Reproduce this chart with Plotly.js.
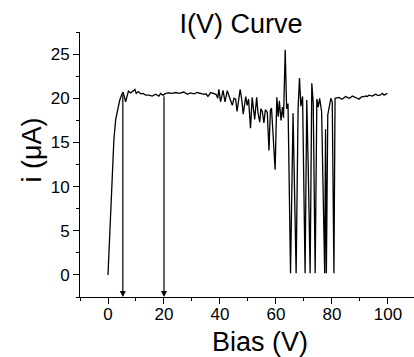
<!DOCTYPE html>
<html>
<head>
<meta charset="utf-8">
<script src="https://cdn.plot.ly/plotly-3.0.1.min.js"></script>
<style>html,body{margin:0;padding:0;background:#fff;}#chart{width:414px;height:357px;}</style>
</head>
<body>
<div id="chart"></div>
<script>
// Bias (V) and current (µA), by segment
var biasRise = [0, 0.6, 1.2, 2.1, 2.75, 3.6, 4.2, 4.9, 5.4, 6.3];
var currRise = [0, 5.0, 10.0, 15.3, 17.6, 19.0, 19.8, 20.4, 20.7, 19.6];

var biasFlat = [7.3, 8.1, 8.9, 9.6, 10.1, 10.8, 11.7, 12.5, 13.5, 14.6, 15.8, 17.0, 18.2, 18.8, 19.6, 20.6, 21.8, 23.0, 24.2, 25.4, 27.1, 28.3, 29.5, 30.7, 31.9, 33.1, 34.3, 35.0, 35.7, 36.7, 37.9, 38.6];
var currFlat = [20.8, 20.6, 20.85, 21.0, 20.55, 20.75, 20.5, 20.55, 20.35, 20.35, 20.25, 20.45, 20.25, 20.55, 20.35, 20.55, 20.6, 20.55, 20.65, 20.55, 20.7, 20.45, 20.6, 20.5, 20.65, 20.55, 20.45, 20.5, 20.2, 20.65, 20.5, 20.45];

var biasNoise = [39.2, 39.6, 40.2, 41.1, 41.8, 42.6, 43.5, 44.4, 45.0, 45.6, 46.1, 47.2, 47.8, 48.3, 49.2, 49.7, 50.2, 50.9, 51.5, 52.0, 52.4, 53.1, 53.6, 54.2, 54.6, 55.1, 55.7, 56.2, 56.9, 57.5, 58.0, 58.4, 58.9, 59.7, 60.3, 60.8, 61.2, 61.8, 62.3, 62.7, 63.3, 63.8, 64.3];
var currNoise = [20.0, 21.0, 19.6, 20.9, 19.6, 20.85, 20.0, 19.2, 20.0, 19.9, 18.5, 21.0, 19.8, 18.2, 20.2, 19.2, 19.9, 16.6, 20.1, 18.3, 17.6, 20.1, 18.3, 17.3, 18.8, 18.5, 17.2, 18.7, 18.4, 14.1, 18.6, 18.9, 15.8, 11.9, 20.1, 17.9, 19.7, 17.5, 19.0, 17.8, 25.5, 18.8, 19.4];

var biasDrop = [65.2, 66.1, 67.2, 67.9, 68.4, 68.9, 69.5, 70.4, 71.0, 71.5, 72.2, 72.8, 73.3, 74.0, 74.6, 75.1, 75.6, 76.3, 77.4, 77.7, 78.0, 78.5, 79.0, 79.6, 80.1, 80.7, 81.1];
var currDrop = [0.2, 18.3, 0.2, 18.8, 22.3, 19.1, 20.2, 0.2, 19.8, 12.5, 0.2, 21.7, 19.5, 0.2, 19.9, 19.0, 20.0, 18.5, 0.2, 16.5, 0.2, 18.1, 19.2, 20.0, 19.6, 0.2, 20.0];

var biasTail = [81.9, 82.5, 83.1, 83.7, 84.3, 84.9, 85.5, 86.1, 86.7, 87.3, 87.9, 88.5, 89.1, 89.6, 90.2, 90.8, 91.4, 92.0, 92.6, 93.2, 93.8, 94.4, 95.0, 95.6, 96.2, 96.8, 97.4, 98.0, 98.6, 99.2, 99.8];
var currTail = [20.1, 20.1, 19.95, 19.9, 20.05, 20.2, 20.1, 20.0, 20.1, 20.25, 20.15, 20.1, 20.0, 19.9, 20.05, 20.2, 20.15, 20.25, 20.2, 20.35, 20.3, 20.25, 20.35, 20.45, 20.35, 20.3, 20.4, 20.55, 20.35, 20.45, 20.55];

// Marked bias points (arrows down to the axis)
var arrowBias = [5.3, 20];
var arrowCurr = [20.6, 20.4];

var xTicks = [0, 20, 40, 60, 80, 100];
var yTicks = [0, 5, 10, 15, 20, 25];
var xMinorTicks = [-10, 10, 30, 50, 70, 90, 110];
var yMinorTicks = [-2.5, 2.5, 7.5, 12.5, 17.5, 22.5, 27.5];

var bias = [].concat(biasRise, biasFlat, biasNoise, biasDrop, biasTail);
var curr = [].concat(currRise, currFlat, currNoise, currDrop, currTail);

var FONT = 'Liberation Sans, Arial, sans-serif';
var yMin = -2.5, yMax = 27.5;

var annotations = arrowBias.map(function (b, i) {
  return {
    x: b, y: yMin, xref: 'x', yref: 'y',
    ax: b, ay: arrowCurr[i], axref: 'x', ayref: 'y',
    text: '', showarrow: true, arrowhead: 2, arrowsize: 1, arrowwidth: 1.2,
    arrowcolor: '#000', standoff: 0, startstandoff: 0
  };
});
annotations.push({
  text: 'Bias (V)', xref: 'paper', yref: 'paper',
  x: (259.6 - 80) / 334, y: -(342 - 297) / 265,
  xanchor: 'center', yanchor: 'middle', showarrow: false, borderpad: 0,
  font: {family: FONT, size: 27, color: '#000'}
});
annotations.push({
  text: 'i (\u03BCA)', xref: 'paper', yref: 'paper', textangle: -90,
  x: -(80 - 31) / 334, y: (297 - 150.5) / 265,
  xanchor: 'center', yanchor: 'middle', showarrow: false, borderpad: 0,
  font: {family: FONT, size: 27, color: '#000'}
});

var axisCommon = {
  showgrid: false, zeroline: false, showline: true, linecolor: '#000', linewidth: 1,
  ticks: 'outside', ticklen: 6, tickwidth: 1, tickcolor: '#000',
  tickfont: {family: FONT, size: 17, color: '#000'}, mirror: false
};

var layout = {
  width: 414, height: 357,
  margin: {l: 80, r: 0, t: 32, b: 60},
  paper_bgcolor: '#fff', plot_bgcolor: '#fff',
  showlegend: false,
  title: {
    text: 'I(V) Curve', x: 241 / 414, xanchor: 'center',
    yref: 'container', y: 1 - 24 / 357, yanchor: 'middle',
    font: {family: FONT, size: 27, color: '#000'}
  },
  xaxis: Object.assign({}, axisCommon, {
    range: [-10, 109.3], tickmode: 'array', tickvals: xTicks, ticktext: xTicks.map(String),
    ticklabelstandoff: -4,
    minor: {ticks: 'outside', ticklen: 3, tickwidth: 1, tickcolor: '#000', tickmode: 'array', tickvals: xMinorTicks}
  }),
  yaxis: Object.assign({}, axisCommon, {
    range: [yMin, yMax], tickmode: 'array', tickvals: yTicks, ticktext: yTicks.map(String),
    minor: {ticks: 'outside', ticklen: 3, tickwidth: 1, tickcolor: '#000', tickmode: 'array', tickvals: yMinorTicks}
  }),
  annotations: annotations
};

var trace = {
  x: bias, y: curr, type: 'scatter', mode: 'lines',
  line: {color: '#000', width: 1.3}, hoverinfo: 'x+y'
};

Plotly.newPlot('chart', [trace], layout, {staticPlot: true, displayModeBar: false});
</script>
</body>
</html>
